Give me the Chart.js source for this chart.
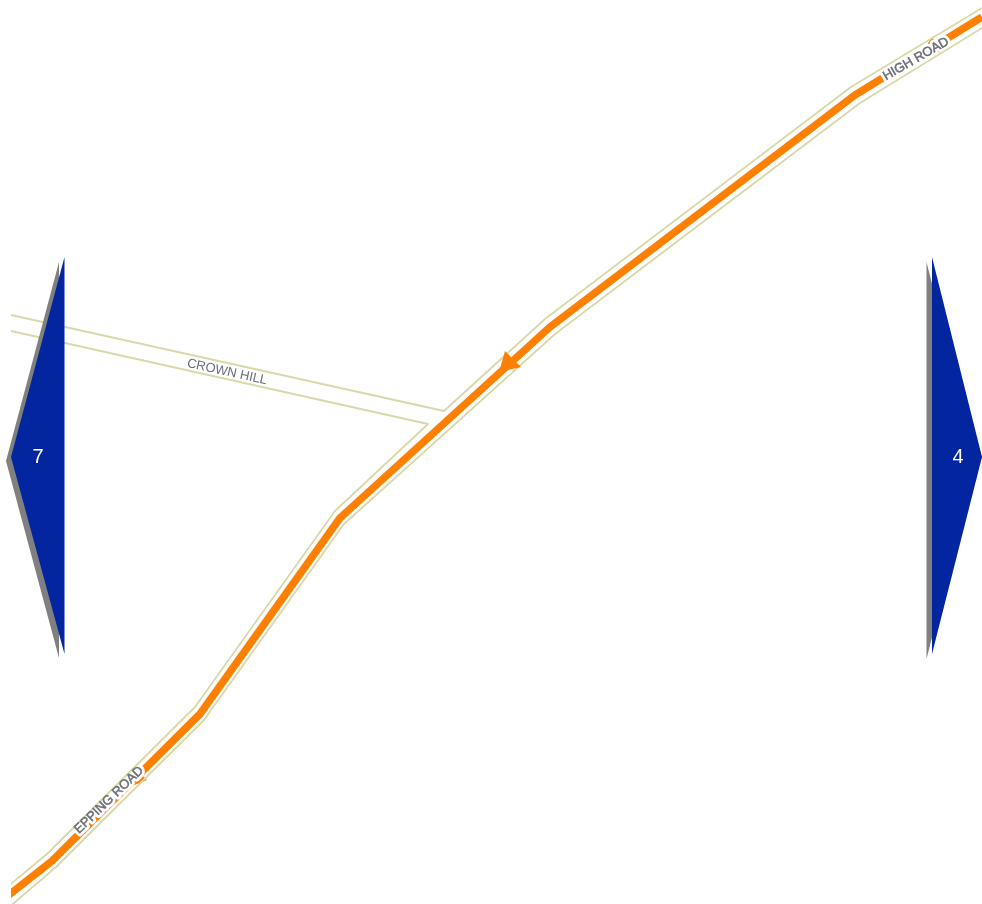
<!DOCTYPE html>
<html>
<head>
<meta charset="utf-8">
<title>Route map</title>
<style>
  html, body { margin: 0; padding: 0; background: #fff; }
  canvas { display: block; }
</style>
<script src="https://cdn.jsdelivr.net/npm/chart.js@4"></script>
</head>
<body>
<canvas id="myChart" width="982" height="904"></canvas>
<script>
// road and marker outlines
const routeLine = [[0,902],[52,861],[200,714],[340,518],[550,327],[855,95],[982,17]];
const roadLower = [[0,915],[56,867],[204,720],[344,524],[555,334],[860,103],[982,28]];
const roadUpperLeft = [[0,893],[47,854],[195,707],[335,511],[428,424],[11,331]];
const roadUpperRight = [[11,315],[444,411],[545,319],[851,87],[982,8]];
const arrowHead = [[505,351],[521,367],[499,372]];
const arrowEpping = [[136,769],[147,780],[127,788]];
const arrowHigh = [[932,37],[942,52],[921,54]];

const leftMarker = [[64.5,257],[11,457],[64.5,654]];
const leftShadow = [[59,262],[6,461],[59,658]];
const rightMarker = [[932,257],[982,457],[932,654]];
const rightShadow = [[926.5,262],[977,461],[926.5,659]];

const roadNames = ['EPPING ROAD', 'HIGH ROAD', 'CROWN HILL'];
const roadNameX = [109, 916, 227];
const roadNameY = [800, 59, 372];
const roadNameAngle = [-44, -30, 12.5];
const roadNameHalo = [6, 6, 0];

const markerLabels = ['7', '4'];
const markerLabelX = [38, 958];
const markerLabelY = [457, 457];

const toPoints = list => list.map(p => ({ x: p[0], y: p[1] }));

const ROAD = '#d8d8a8';
const ROUTE = '#ff8000';
const BLUE = '#03259f';
const SHADOW = '#808080';
const LABEL = '#6a6e78';

// everything is cut off at x = 11 on the left, like the source picture
const mapClip = { left: -11, top: 0, right: 0, bottom: 0 };

function lineSet(points, color, width) {
    return {
        data: toPoints(points),
        showLine: true,
        borderColor: color,
        borderWidth: width,
        borderJoinStyle: 'round',
        pointRadius: 0,
        fill: false,
        clip: mapClip
    };
}

function shapeSet(points, color) {
    return {
        data: toPoints(points),
        showLine: true,
        borderWidth: 0,
        backgroundColor: color,
        pointRadius: 0,
        fill: 'shape'
    };
}

function placeLabel(ctx, chart, x, y, angle, draw) {
    ctx.save();
    ctx.translate(chart.scales.x.getPixelForValue(x), chart.scales.y.getPixelForValue(y));
    ctx.rotate(angle * Math.PI / 180);
    ctx.font = '13px "Liberation Sans"';
    ctx.textAlign = 'center';
    ctx.textBaseline = 'middle';
    ctx.lineJoin = 'round';
    draw();
    ctx.restore();
}

const mapLabels = {
    id: 'mapLabels',
    // white knock-out goes straight after the route and its arrows, under the road edges
    afterDatasetDraw(chart, args) {
        if (args.index !== 2) return;
        const ctx = chart.ctx;
        roadNames.forEach((name, i) => {
            if (!roadNameHalo[i]) return;
            placeLabel(ctx, chart, roadNameX[i], roadNameY[i], roadNameAngle[i], () => {
                ctx.lineWidth = roadNameHalo[i];
                ctx.strokeStyle = '#fff';
                ctx.strokeText(name, 0, 0);
            });
        });
    },
    afterDatasetsDraw(chart) {
        const ctx = chart.ctx;
        roadNames.forEach((name, i) => {
            placeLabel(ctx, chart, roadNameX[i], roadNameY[i], roadNameAngle[i], () => {
                ctx.fillStyle = LABEL;
                ctx.fillText(name, 0, 0);
                if (roadNameHalo[i]) {
                    ctx.lineWidth = 0.5;
                    ctx.strokeStyle = LABEL;
                    ctx.strokeText(name, 0, 0);
                }
            });
        });
        markerLabels.forEach((label, i) => {
            placeLabel(ctx, chart, markerLabelX[i], markerLabelY[i], 0, () => {
                ctx.font = '20px "Liberation Sans"';
                ctx.fillStyle = '#fff';
                ctx.fillText(label, 0, 0);
            });
        });
    }
};

const ctx = document.getElementById('myChart').getContext('2d');

const myChart = new Chart(ctx, {
    type: 'scatter',
    data: {
        datasets: [
            lineSet(routeLine, ROUTE, 7.5),
            shapeSet(arrowEpping, ROUTE),
            shapeSet(arrowHigh, ROUTE),
            lineSet(roadLower, ROAD, 1.8),
            lineSet(roadUpperLeft, ROAD, 1.8),
            lineSet(roadUpperRight, ROAD, 1.8),
            shapeSet(arrowHead, ROUTE),
            shapeSet(leftShadow, SHADOW),
            shapeSet(leftMarker, BLUE),
            shapeSet(rightShadow, SHADOW),
            shapeSet(rightMarker, BLUE)
        ].map((set, i) => ({ ...set, order: 20 - i }))
    },
    options: {
        responsive: false,
        animation: false,
        layout: { padding: 0 },
        plugins: {
            legend: { display: false },
            tooltip: { enabled: false }
        },
        scales: {
            x: { type: 'linear', display: false, min: 0, max: 982 },
            y: { type: 'linear', display: false, min: 0, max: 904, reverse: true }
        }
    },
    plugins: [mapLabels]
});
</script>
</body>
</html>
